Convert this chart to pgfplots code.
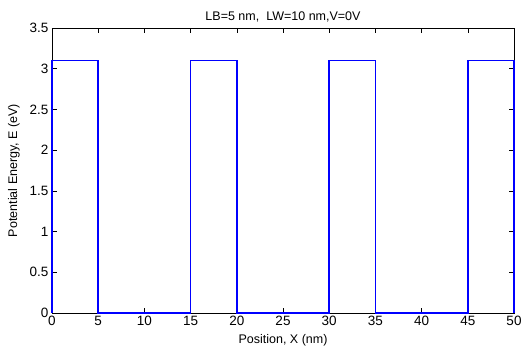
\documentclass[border=0pt]{standalone}
\usepackage{pgfplots}
\pgfplotsset{compat=1.18}
\usepackage{fontspec}
\setmainfont{Liberation Sans}
\begin{document}
\begin{tikzpicture}
\useasboundingbox (-52pt,-47pt) rectangle (469pt,313pt);
\begin{axis}[
  at={(0,0)}, anchor=south west,
  scale only axis,
  width=462pt, height=285pt,
  xmin=0, xmax=50, ymin=0, ymax=3.5,
  xtick={0,5,...,50}, ytick={0,0.5,...,3.5},
  tick align=inside,
  tick pos=both,
  major tick length=5pt,
  clip=false,
  axis line style={line width=0.8pt},
  every tick/.style={black, line width=0.6pt},
  /pgf/number format/assume math mode=true,
  yticklabel style={/pgf/number format/fixed, /pgf/number format/precision=1},
  ticklabel style={font=\fontsize{13.5}{15}\selectfont},
  label style={font=\fontsize{12.5}{14}\selectfont},
  title style={font=\fontsize{12.5}{14}\selectfont, yshift=-4pt},
  title={LB=5 nm,\ \ LW=10 nm,V=0V},
  xlabel={Position, X (nm)},
  ylabel={Potential Energy, E (eV)},
  xlabel style={yshift=-1pt},
  ylabel style={yshift=3pt},
]
\addplot[color={rgb,255:red,0;green,0;blue,255}, line width=1.7pt, line join=miter] coordinates {
(0,0) (0,3.1) (5,3.1) (5,0) (15,0) (15,3.1) (20,3.1) (20,0) (30,0) (30,3.1) (35,3.1) (35,0) (45,0) (45,3.1) (50,3.1) (50,0)
};
\end{axis}
\end{tikzpicture}
\end{document}
